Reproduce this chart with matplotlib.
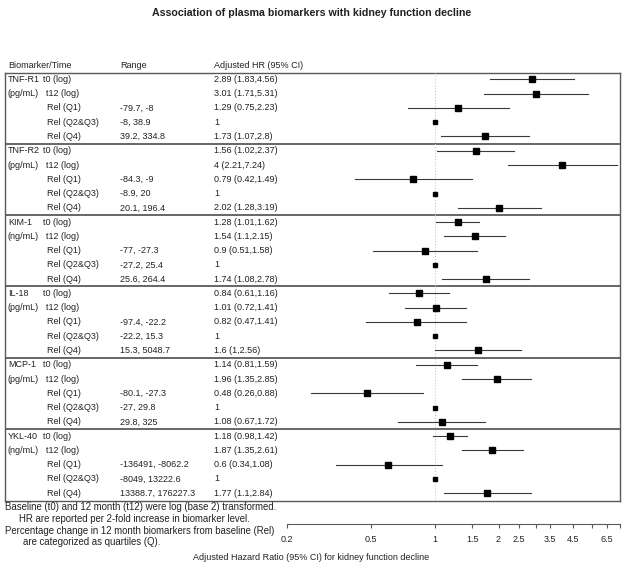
import matplotlib
matplotlib.use("Agg")
import matplotlib.pyplot as plt
from matplotlib.transforms import blended_transform_factory

plt.rcParams['font.family'] = ['Liberation Sans', 'DejaVu Sans']

title = "Association of plasma biomarkers with kidney function decline"
markers = ["TNF-R1", "TNF-R2", "KIM-1", "IL-18", "MCP-1", "YKL-40"]
units = ["(pg/mL)", "(pg/mL)", "(ng/mL)", "(pg/mL)", "(pg/mL)", "(ng/mL)"]
times = ["t0 (log)", "t12 (log)", "Rel (Q1)", "Rel (Q2&Q3)", "Rel (Q4)"]

# % change ranges for Q1, Q2&Q3, Q4
ranges = [
    [(-79.7, -8), (-8, 38.9), (39.2, 334.8)],
    [(-84.3, -9), (-8.9, 20), (20.1, 196.4)],
    [(-77, -27.3), (-27.2, 25.4), (25.6, 264.4)],
    [(-97.4, -22.2), (-22.2, 15.3), (15.3, 5048.7)],
    [(-80.1, -27.3), (-27, 29.8), (29.8, 325)],
    [(-136491, -8062.2), (-8049, 13222.6), (13388.7, 176227.3)],
]

# hazard ratios and 95% CI (t0, t12, Q1, Q2&Q3 reference, Q4)
hr = [
    [2.89, 3.01, 1.29, 1, 1.73],
    [1.56, 4, 0.79, 1, 2.02],
    [1.28, 1.54, 0.9, 1, 1.74],
    [0.84, 1.01, 0.82, 1, 1.6],
    [1.14, 1.96, 0.48, 1, 1.08],
    [1.18, 1.87, 0.6, 1, 1.77],
]
lo = [
    [1.83, 1.71, 0.75, None, 1.07],
    [1.02, 2.21, 0.42, None, 1.28],
    [1.01, 1.1, 0.51, None, 1.08],
    [0.61, 0.72, 0.47, None, 1],
    [0.81, 1.35, 0.26, None, 0.67],
    [0.98, 1.35, 0.34, None, 1.1],
]
hi = [
    [4.56, 5.31, 2.23, None, 2.8],
    [2.37, 7.24, 1.49, None, 3.19],
    [1.62, 2.15, 1.58, None, 2.78],
    [1.16, 1.41, 1.41, None, 2.56],
    [1.59, 2.85, 0.88, None, 1.72],
    [1.42, 2.61, 1.08, None, 2.84],
]

ticks = [0.2, 0.5, 1, 1.5, 2, 2.5, 3, 3.5, 4.5, 5.5, 6.5, 7.5]
tick_labels = ["0.2", "0.5", "1", "1.5", "2", "2.5", "", "3.5", "4.5", "", "6.5", ""]

footnotes = [
    "Baseline (t0) and 12 month (t12) were log (base 2) transformed.",
    "HR are reported per 2-fold increase in biomarker level.",
    "Percentage change in 12 month biomarkers from baseline (Rel)",
    "are categorized as quartiles (Q).",
]

W, H = 623, 572
fs = 6.5
txt = "#222222"
line_c = "#5a5a5a"


def fx(px):
    return px / W


def fy(py):
    return 1 - py / H


def num(v):
    return f"{v:.10g}"


fig = plt.figure(figsize=(W / 100, H / 100), dpi=100)

box_top, box_bot = 73, 501
nrows = 5 * len(markers)
ylim = (nrows - 0.5 + 0.05, -0.45)

box = fig.add_axes([fx(5), fy(box_bot), fx(620 - 5), (box_bot - box_top) / H])
box.set_xlim(0, 1)
box.set_ylim(*ylim)
box.set_xticks([])
box.set_yticks([])
for s in box.spines.values():
    s.set_color(line_c)
    s.set_linewidth(1.0)
for g in range(1, len(markers)):
    box.axhline(5 * g - 0.5, color=line_c, lw=1.3)

ax = fig.add_axes([fx(287), fy(box_bot), fx(620 - 287), (box_bot - box_top) / H])
ax.patch.set_alpha(0)
ax.set_xscale("log")
ax.set_xlim(0.2, 7.5)
ax.set_ylim(*ylim)
ax.axvline(1, color="#c8c8c8", lw=0.8, ls=":")

for g in range(len(markers)):
    for r in range(5):
        y = 5 * g + r
        if lo[g][r] is None:
            ax.plot(hr[g][r], y, "s", color="black", ms=3.2)
        else:
            ax.plot([lo[g][r], hi[g][r]], [y, y], color="#3a3a3a", lw=0.8)
            ax.plot(hr[g][r], y, "s", color="black", ms=4.5)

for s in ["top", "left", "right"]:
    ax.spines[s].set_visible(False)
ax.spines["bottom"].set_position(("outward", 16.5))
ax.spines["bottom"].set_color(line_c)
ax.set_yticks([])
ax.set_xticks(ticks)
ax.set_xticklabels(tick_labels)
ax.minorticks_off()
ax.tick_params(axis="x", direction="out", length=3, width=0.8, color=line_c,
               labelsize=fs, labelcolor=txt, pad=5)

# table text
tr = blended_transform_factory(fig.transFigure, ax.transData)
fig.text(fx(8), fy(66), "Biomarker/Time", fontsize=fs, color=txt, va="center")
fig.text(fx(120), fy(66), "Range", fontsize=fs, color=txt, va="center")
fig.text(fx(214), fy(66), "Adjusted HR (95% CI)", fontsize=fs, color=txt, va="center")

for g in range(len(markers)):
    for r in range(5):
        y = 5 * g + r
        if r == 0:
            fig.text(fx(8), y, markers[g], transform=tr, fontsize=fs, color=txt, va="center")
            fig.text(fx(43), y, times[r], transform=tr, fontsize=fs, color=txt, va="center")
        elif r == 1:
            fig.text(fx(8), y, units[g], transform=tr, fontsize=fs, color=txt, va="center")
            fig.text(fx(46), y, times[r], transform=tr, fontsize=fs, color=txt, va="center")
        else:
            fig.text(fx(47), y, times[r], transform=tr, fontsize=fs, color=txt, va="center")
            a, b = ranges[g][r - 2]
            fig.text(fx(120), y, f"{num(a)}, {num(b)}", transform=tr, fontsize=fs,
                     color=txt, va="center")
        if lo[g][r] is None:
            s = num(hr[g][r])
        else:
            s = f"{num(hr[g][r])} ({num(lo[g][r])},{num(hi[g][r])})"
        fig.text(fx(214), y, s, transform=tr, fontsize=fs, color=txt, va="center")

fig.text(0.5, fy(13), title, fontsize=7.7, fontweight="bold", color=txt,
         ha="center", va="center")

foot_pos = [(5, 507), (19, 519), (5, 531), (23, 542)]
for (x, y), s in zip(foot_pos, footnotes):
    fig.text(fx(x), fy(y), s, fontsize=6.9, color=txt, va="center")

fig.text(fx(311), fy(558), "Adjusted Hazard Ratio (95% CI) for kidney function decline",
         fontsize=fs, color=txt, ha="center", va="center")

fig.savefig("out.png", dpi=100, facecolor="white")
